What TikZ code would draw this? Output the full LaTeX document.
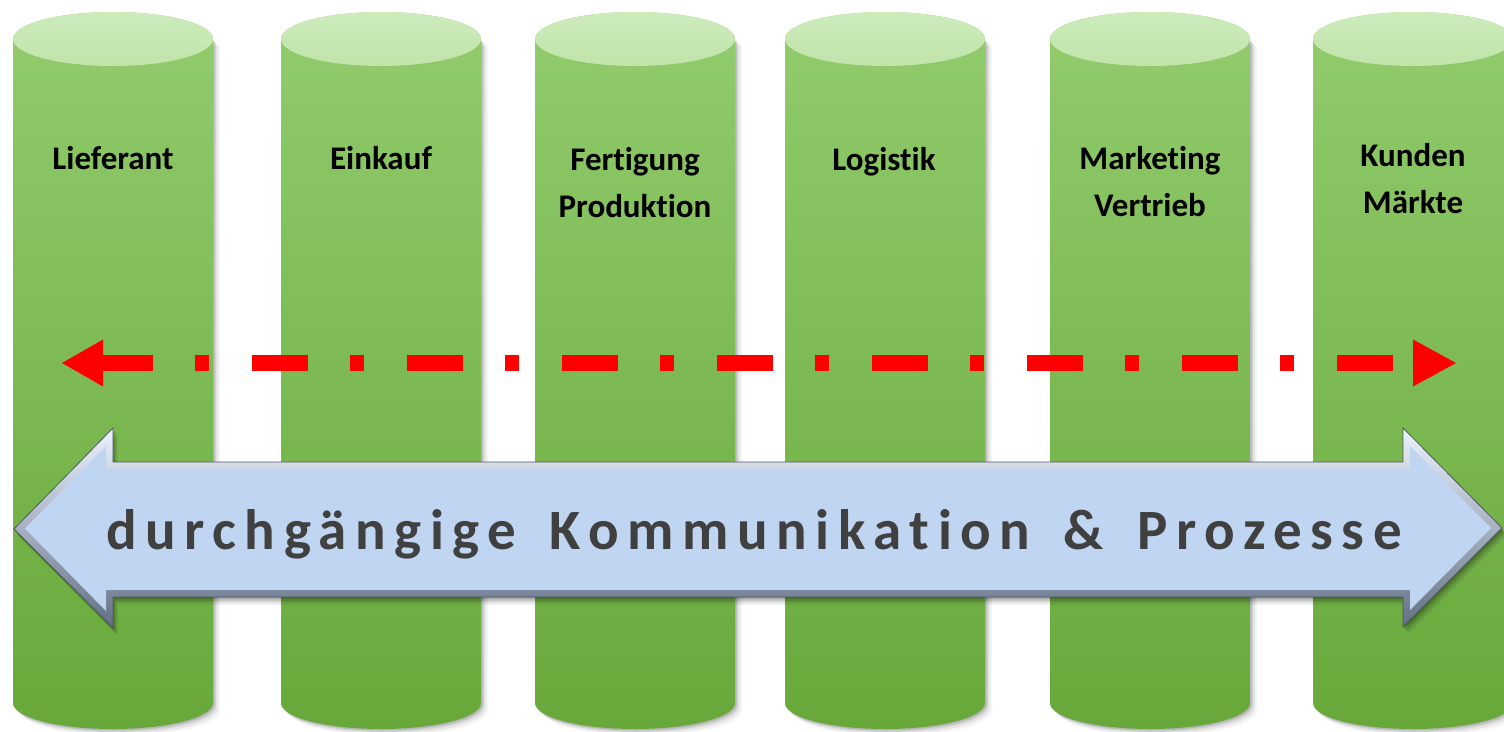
\documentclass[tikz,border=0pt]{standalone}
\usepackage{fontspec}
\setmainfont{Carlito}[Ligatures={NoCommon}]
\usetikzlibrary{calc}
\definecolor{cylTop}{RGB}{193,228,170}
\definecolor{cylTopL}{RGB}{205,235,188}
\definecolor{cylSideTop}{RGB}{146,204,110}
\definecolor{cylSideBot}{RGB}{104,168,58}
\definecolor{arrFill}{RGB}{192,213,242}
\definecolor{arrLight}{RGB}{236,243,253}
\definecolor{arrDark}{RGB}{98,110,132}
\definecolor{arrEdge}{RGB}{80,88,102}
\definecolor{txtGray}{RGB}{64,64,64}
\definecolor{redLine}{RGB}{255,0,0}
\tikzset{
  lbl/.style={font=\bfseries\fontsize{33}{47}\selectfont, align=center, text=black, inner sep=0pt},
  bigtxt/.style={font=\bfseries\fontsize{57}{60}\selectfont\addfontfeature{LetterSpace=15,Ligatures={NoCommon}}, inner sep=0pt},
  redline/.style={draw=redLine, line width=16pt, dash pattern=on 56pt off 42pt on 14pt off 43pt, dash phase=6pt},
  redtip/.style={fill=redLine, draw=none}
}
\begin{document}
\begin{tikzpicture}[x=1pt,y=-1pt]
\useasboundingbox (0,0) rectangle (1504,731);
\clip (0,0) rectangle (1504,731);
\fill[white] (0,0) rectangle (1504,731);
% cylinders
\foreach \xl in {13,281,535,785,1050,1313}{
  \foreach \s/\o in {7/0.04,5/0.06,3/0.09,1.5/0.12}{
    \begin{scope}[shift={(\s,\s)}]
      \fill[black,opacity=\o] (\xl,39) -- (\xl,703) arc[start angle=180,end angle=360,x radius=100pt,y radius=26pt] -- (\xl+200,39) -- cycle;
    \end{scope}
  }
  \shade[top color=cylSideTop, bottom color=cylSideBot] (\xl,39) -- (\xl,703) arc[start angle=180,end angle=360,x radius=100pt,y radius=26pt] -- (\xl+200,39) arc[start angle=0,end angle=180,x radius=100pt,y radius=27pt] -- cycle;
  \shade[top color=cylTopL, bottom color=cylTop] (\xl+100,39) ellipse[x radius=100pt, y radius=27pt];
}
% labels
\node[lbl] (l1) at (113,158.5) {Lieferant};
\node[lbl] (l2) at (381,158.5) {Einkauf};
\node[lbl] (l3) at (635,183) {Fertigung\\Produktion};
\node[lbl] (l4) at (884,162) {Logistik};
\node[lbl] (l5) at (1150,182) {Marketing\\Vertrieb};
\node[lbl] (l6) at (1413,178.5) {Kunden\\Märkte};
% red dash-dot double arrow
\coordinate (rl) at (62,363);
\coordinate (rr) at (1456,363);
\draw[redline, shorten <=41pt, shorten >=43pt] (rl) -- (rr);
\fill[redtip] (rl) -- ++(41,-23.5) -- ++(0,47) -- cycle;
\fill[redtip] (rr) -- ++(-43,-23.5) -- ++(0,47) -- cycle;
% big arrow shadow
\foreach \s/\o in {8/0.05,6/0.08,4/0.12,2/0.15}{
  \begin{scope}[shift={(\s*0.6,\s)}]
    \fill[black,opacity=\o] (14,529) -- (113,428) -- (113,462) -- (1403,462) -- (1403,428) -- (1502,528) -- (1403,627) -- (1403,597) -- (113,597) -- (113,628) -- cycle;
  \end{scope}
}
% big arrow rim
\shade[top color=arrLight, bottom color=arrDark, draw=arrEdge, line width=0.8pt] (14,529) -- (113,428) -- (113,462) -- (1403,462) -- (1403,428) -- (1502,528) -- (1403,627) -- (1403,597) -- (113,597) -- (113,628) -- cycle;
% big arrow face
\fill[arrFill] (25,528.5) -- (106,446) -- (106,469) -- (1410,469) -- (1410,446) -- (1491,528) -- (1410,610) -- (1410,590) -- (106,590) -- (106,611) -- cycle;
% text
\node[bigtxt, text=txtGray] (bt) at (754,534) {durchgängige\hspace{12pt} Kommunikation\hspace{12pt} \&\hspace{12pt} Prozesse};
\end{tikzpicture}
\end{document}
